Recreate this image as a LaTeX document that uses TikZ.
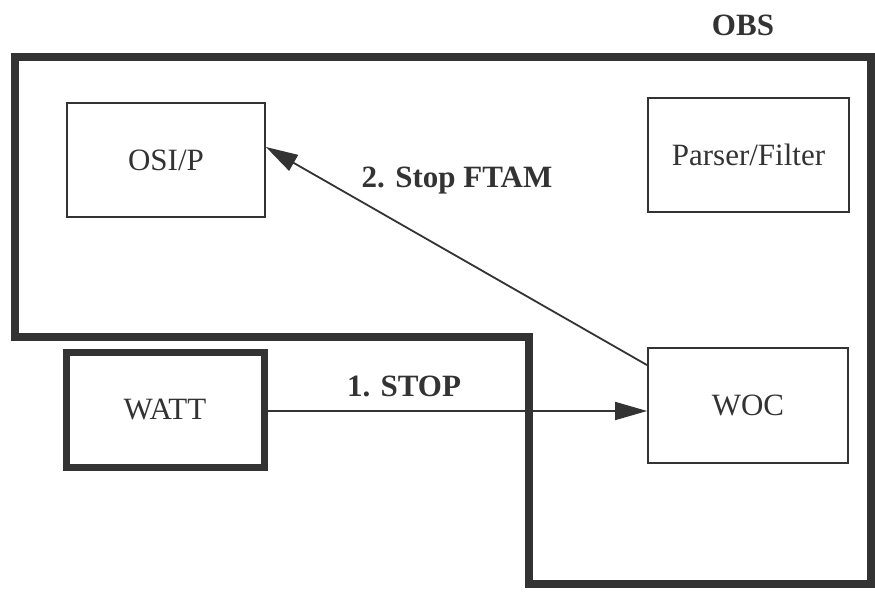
\documentclass[tikz,border=0pt]{standalone}
\usepackage{fontspec}
\setmainfont{Liberation Serif}
\usetikzlibrary{arrows.meta}
\definecolor{ink}{gray}{0.2}
\tikzset{
  box/.style={draw=ink, line width=1.8pt, inner sep=0pt, text=ink,
    font=\fontsize{31}{36}\selectfont},
  thickbox/.style={box, line width=7pt},
  lbl/.style={text=ink, font=\fontsize{31}{36}\selectfont\bfseries, inner sep=0pt},
  conn/.style={draw=ink, line width=1.8pt, -{Triangle[length=32pt,width=18pt]}},
  frame/.style={draw=ink, line width=8pt, line join=miter}
}
\begin{document}
\begin{tikzpicture}[x=1pt,y=-1pt]
\useasboundingbox (0,0) rectangle (875,592);
% OBS frame
\draw[frame] (15,57) -- (871,57) -- (871,584) -- (529,584) -- (529,337) -- (15,337) -- cycle;
\node[lbl] (obs) at (743,25) {OBS};
% boxes
\node[box, minimum width=198pt, minimum height=114pt] (osi) at (166,160) {OSI/P};
\node[box, minimum width=201pt, minimum height=114pt] (pf) at (748.5,155) {Parser/Filter};
\node[box, minimum width=200pt, minimum height=115pt] (woc) at (748,405.5) {WOC};
\node[thickbox, minimum width=198pt, minimum height=115pt] (watt) at (165,409.5) {WATT};
% connectors
\draw[conn] ([yshift=-1.5pt]watt.east) -- ([yshift=-1.5pt]watt.east -| woc.west);
\draw[conn] ([yshift=-18pt]woc.north west) -- ([yshift=13pt]osi.east);
% labels
\node[lbl] (l1) at (404,386) {1. STOP};
\node[lbl] (l2) at (457,181) {2. Stop FTAM};
\end{tikzpicture}
\end{document}
